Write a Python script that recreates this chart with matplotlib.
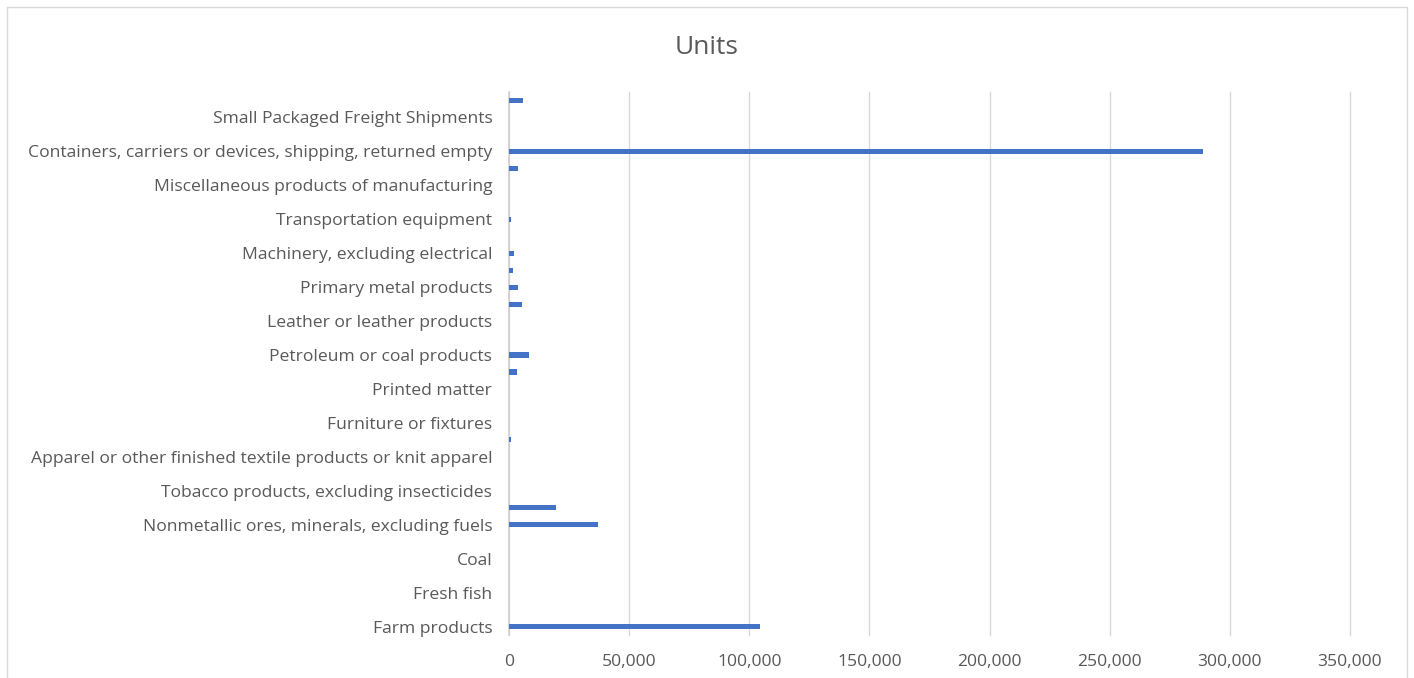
import matplotlib
matplotlib.use("Agg")
import matplotlib.pyplot as plt
from matplotlib.ticker import FuncFormatter
from matplotlib.patches import Rectangle

categories = [
    "Farm products",
    "Forest products",
    "Fresh fish",
    "Metallic ores",
    "Coal",
    "Crude petroleum, natural gas or gasoline",
    "Nonmetallic ores, minerals, excluding fuels",
    "Food or kindred products",
    "Tobacco products, excluding insecticides",
    "Textile mill products",
    "Apparel or other finished textile products or knit apparel",
    "Lumber or wood products, excluding furniture",
    "Furniture or fixtures",
    "Pulp, paper or allied products",
    "Printed matter",
    "Chemicals or allied products",
    "Petroleum or coal products",
    "Rubber or miscellaneous plastics products",
    "Leather or leather products",
    "Clay, concrete, glass or stone products",
    "Primary metal products",
    "Fabricated metal products",
    "Machinery, excluding electrical",
    "Electrical machinery, equipment or supplies",
    "Transportation equipment",
    "Instruments, photographic goods, optical goods",
    "Miscellaneous products of manufacturing",
    "Waste or scrap materials",
    "Containers, carriers or devices, shipping, returned empty",
    "Mail and express traffic",
    "Small Packaged Freight Shipments",
    "Hazardous materials",
]
units = [
    104600, 0, 0, 0, 0, 0, 37000, 19400, 0, 0, 0, 800, 0, 0, 0, 3200,
    8200, 0, 0, 5500, 3600, 1500, 2200, 0, 800, 0, 0, 3600, 288700, 0, 0, 5800,
]
x_ticks = [0, 50000, 100000, 150000, 200000, 250000, 300000, 350000]

text_color = "#595959"
plt.rcParams["font.family"] = ["Open Sans", "DejaVu Sans"]

fig = plt.figure(figsize=(14.14, 6.78), dpi=100)
fig.patches.append(Rectangle((7 / 1414, -0.05), 1400 / 1414, 1.04, transform=fig.transFigure,
                             fill=False, edgecolor="#D9D9D9", linewidth=1.0))
ax = fig.add_axes([509 / 1414, 1 - 635 / 678, (1350 - 509) / 1414, (635 - 92) / 678])

pos = list(range(len(categories)))
ax.barh(pos, units, height=0.3, color="#4472C4", zorder=3)
ax.set_ylim(-0.5, len(categories) - 0.5)
ax.set_xlim(0, 350000)
ax.set_xticks(x_ticks)
ax.xaxis.set_major_formatter(FuncFormatter(lambda v, p: f"{int(v):,}"))
ax.set_yticks(pos[::2])
ax.set_yticklabels(categories[::2])
ax.tick_params(axis="both", length=0, colors=text_color, labelsize=12.6)
ax.tick_params(axis="y", pad=12)
ax.tick_params(axis="x", pad=14)
ax.grid(axis="x", color="#D9D9D9", linewidth=1.0, zorder=0)
for gl in ax.get_xgridlines():
    gl.set_clip_on(False)
for s in ["top", "right", "bottom"]:
    ax.spines[s].set_visible(False)
ax.spines["left"].set_color("#D0D0D0")
ax.spines["left"].set_linewidth(1.2)

fig.text(707 / 1414, 1 - 48 / 678, "Units", ha="center", va="center", fontsize=19, color=text_color)

fig.savefig("out.png", dpi=100)
